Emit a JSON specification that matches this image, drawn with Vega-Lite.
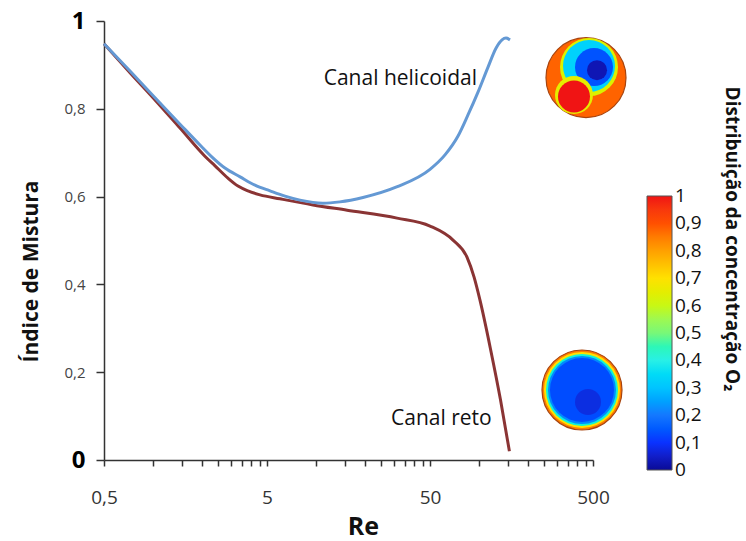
{
  "$schema": "https://vega.github.io/schema/vega-lite/v6.json",
  "width": 489,
  "height": 439,
  "autosize": {"type": "none"},
  "padding": {"left": 104, "top": 21, "right": 153, "bottom": 81},
  "background": "white",
  "config": {"view": {"stroke": null}, "font": "Open Sans"},
  "datasets": {
    "curves": [
      {"re": 0.5, "mi": 0.948, "canal": "reto"},
      {"re": 0.722, "mi": 0.882, "canal": "reto"},
      {"re": 1.028, "mi": 0.82, "canal": "reto"},
      {"re": 1.463, "mi": 0.756, "canal": "reto"},
      {"re": 2.08, "mi": 0.692, "canal": "reto"},
      {"re": 2.40, "mi": 0.67, "canal": "reto"},
      {"re": 2.88, "mi": 0.642, "canal": "reto"},
      {"re": 3.32, "mi": 0.624, "canal": "reto"},
      {"re": 3.82, "mi": 0.613, "canal": "reto"},
      {"re": 4.53, "mi": 0.604, "canal": "reto"},
      {"re": 6.01, "mi": 0.595, "canal": "reto"},
      {"re": 9.57, "mi": 0.581, "canal": "reto"},
      {"re": 15.5, "mi": 0.569, "canal": "reto"},
      {"re": 31.4, "mi": 0.551, "canal": "reto"},
      {"re": 50, "mi": 0.533, "canal": "reto"},
      {"re": 69.2, "mi": 0.501, "canal": "reto"},
      {"re": 84.3, "mi": 0.462, "canal": "reto"},
      {"re": 93.1, "mi": 0.417, "canal": "reto"},
      {"re": 101.3, "mi": 0.364, "canal": "reto"},
      {"re": 117.5, "mi": 0.253, "canal": "reto"},
      {"re": 135.5, "mi": 0.136, "canal": "reto"},
      {"re": 153.5, "mi": 0.02, "canal": "reto"},
      {"re": 0.5, "mi": 0.948, "canal": "helicoidal"},
      {"re": 0.722, "mi": 0.886, "canal": "helicoidal"},
      {"re": 1.028, "mi": 0.825, "canal": "helicoidal"},
      {"re": 1.463, "mi": 0.765, "canal": "helicoidal"},
      {"re": 1.94, "mi": 0.7175, "canal": "helicoidal"},
      {"re": 2.30, "mi": 0.69, "canal": "helicoidal"},
      {"re": 2.76, "mi": 0.665, "canal": "helicoidal"},
      {"re": 3.42, "mi": 0.645, "canal": "helicoidal"},
      {"re": 4.22, "mi": 0.626, "canal": "helicoidal"},
      {"re": 5.22, "mi": 0.613, "canal": "helicoidal"},
      {"re": 6.45, "mi": 0.601, "canal": "helicoidal"},
      {"re": 7.97, "mi": 0.592, "canal": "helicoidal"},
      {"re": 11.0, "mi": 0.585, "canal": "helicoidal"},
      {"re": 14.0, "mi": 0.588, "canal": "helicoidal"},
      {"re": 19.4, "mi": 0.598, "canal": "helicoidal"},
      {"re": 31.2, "mi": 0.622, "canal": "helicoidal"},
      {"re": 50, "mi": 0.662, "canal": "helicoidal"},
      {"re": 61.8, "mi": 0.695, "canal": "helicoidal"},
      {"re": 74.3, "mi": 0.738, "canal": "helicoidal"},
      {"re": 85.5, "mi": 0.786, "canal": "helicoidal"},
      {"re": 98.5, "mi": 0.838, "canal": "helicoidal"},
      {"re": 113.5, "mi": 0.895, "canal": "helicoidal"},
      {"re": 127, "mi": 0.938, "canal": "helicoidal"},
      {"re": 138.3, "mi": 0.957, "canal": "helicoidal"},
      {"re": 146.3, "mi": 0.961, "canal": "helicoidal"},
      {"re": 154.8, "mi": 0.957, "canal": "helicoidal"}
    ],
    "blobs": [
      {"re": 452.9, "mi": 0.871, "c": 0.88, "part": "t0"},
      {"re": 472.6, "mi": 0.895, "c": 0.63, "part": "t1"},
      {"re": 472.6, "mi": 0.8975, "c": 0.33, "part": "t2"},
      {"re": 507.1, "mi": 0.895, "c": 0.14, "part": "t3"},
      {"re": 529.1, "mi": 0.888, "c": 0.03, "part": "t4"},
      {"re": 382.2, "mi": 0.8314, "c": 0.65, "part": "t5"},
      {"re": 382.2, "mi": 0.828, "c": 1.0, "part": "t6"},
      {"re": 428.0, "mi": 0.1595, "c": 0.85, "part": "b0"},
      {"re": 428.0, "mi": 0.1595, "c": 0.7, "part": "b1"},
      {"re": 428.0, "mi": 0.1595, "c": 0.42, "part": "b2"},
      {"re": 428.0, "mi": 0.1595, "c": 0.22, "part": "b3"},
      {"re": 428.0, "mi": 0.1595, "c": 0.13, "part": "b4"},
      {"re": 465.9, "mi": 0.132, "c": 0.06, "part": "b5"}
    ],
    "notes": [
      {"re": 97.1, "mi": 0.854, "txt": "Canal helicoidal"},
      {"re": 119.6, "mi": 0.0797, "txt": "Canal reto"}
    ],
    "legendTitle": [
      {"re": 3560, "mi": 0.5034, "txt": "Distribuição da concentração O₂"}
    ]
  },
  "encoding": {
    "x": {
      "field": "re",
      "type": "quantitative",
      "scale": {"type": "log", "domain": [0.5, 500], "nice": false},
      "axis": {
        "title": "Re",
        "titleFontSize": 25,
        "titleFontWeight": "bold",
        "titleColor": "#111",
        "titleX": 259,
        "titleY": 74,
        "titleBaseline": "alphabetic",
        "values": [0.5, 1, 1.5, 2, 2.5, 3, 3.5, 4, 4.5, 5, 10, 15, 20, 25, 30, 35, 40, 45, 50, 100, 150, 200, 250, 300, 350, 400, 450, 500],
        "labelExpr": "datum.value == 0.5 ? '0,5' : (datum.value == 5 || datum.value == 50 || datum.value == 500) ? format(datum.value, 'd') : ''",
        "labelFontSize": 19,
        "labelColor": "#333",
        "labelPadding": 22,
        "labelFlush": false,
        "labelOverlap": false,
        "tickSize": 6,
        "tickColor": "#333",
        "tickWidth": 1.5,
        "domainColor": "#333",
        "domainWidth": 1.5,
        "grid": false
      }
    },
    "y": {
      "field": "mi",
      "type": "quantitative",
      "scale": {"domain": [0, 1], "nice": false},
      "axis": {
        "title": "Índice de Mistura",
        "titleFontSize": 21,
        "titleFontWeight": "bold",
        "titleColor": "#111",
        "titleX": -67,
        "titleY": 250,
        "titleAngle": -90,
        "titleBaseline": "alphabetic",
        "values": [0, 0.2, 0.4, 0.6, 0.8, 1],
        "labelExpr": "datum.value == 0 ? '0' : datum.value == 1 ? '1' : replace(format(datum.value, '.1f'), '.', ',')",
        "labelFontSize": {"condition": {"test": "datum.value == 0 || datum.value == 1", "value": 24}, "value": 15},
        "labelFontWeight": {"condition": {"test": "datum.value == 0 || datum.value == 1", "value": "bold"}, "value": "normal"},
        "labelColor": {"condition": {"test": "datum.value == 0 || datum.value == 1", "value": "#000"}, "value": "#444"},
        "labelPadding": 11,
        "labelOverlap": false,
        "tickSize": 8,
        "tickColor": "#333",
        "tickWidth": 1.5,
        "domainColor": "#333",
        "domainWidth": 1.5,
        "grid": false
      }
    }
  },
  "layer": [
    {
      "data": {"name": "curves"},
      "transform": [{"filter": "datum.canal === 'reto'"}],
      "mark": {"type": "line", "interpolate": "monotone", "color": "#8a3434", "strokeWidth": 3}
    },
    {
      "data": {"name": "curves"},
      "transform": [{"filter": "datum.canal === 'helicoidal'"}],
      "mark": {"type": "line", "interpolate": "monotone", "color": "#6499d4", "strokeWidth": 3}
    },
    {
      "data": {"name": "blobs"},
      "transform": [{"filter": "datum.part === 't0'"}],
      "mark": {"type": "circle", "opacity": 1, "stroke": "#a8440e", "strokeWidth": 1.2, "size": 6400},
      "encoding": {
        "color": {
          "field": "c",
          "type": "quantitative",
          "scale": {
            "domain": [0, 0.1, 0.2, 0.3, 0.4, 0.5, 0.6, 0.7, 0.8, 0.9, 1],
            "range": ["#0a0a96", "#0a32ff", "#1478ff", "#00c4ff", "#28f0e6", "#78f878", "#c8f814", "#ffe100", "#ffa000", "#ff5000", "#f01414"]
          },
          "legend": {
            "orient": "none",
            "legendX": 543,
            "legendY": 175,
            "direction": "vertical",
            "gradientLength": 274,
            "gradientThickness": 25,
            "title": null,
            "values": [0.0001, 0.1, 0.2, 0.3, 0.4, 0.5, 0.6, 0.7, 0.8, 0.9, 0.9999],
            "labelExpr": "replace(format(datum.value, '.1~f'), '.', ',')",
            "labelFontSize": 19,
            "labelColor": "#111",
            "labelOffset": 3,
            "labelOverlap": false,
            "gradientStrokeColor": "#555",
            "gradientStrokeWidth": 1,
            "padding": 0
          }
        }
      }
    },
    {
      "data": {"name": "blobs"},
      "transform": [{"filter": "datum.part === 't1'"}],
      "mark": {"type": "circle", "opacity": 1, "strokeWidth": 0, "size": 3364},
      "encoding": {"color": {"field": "c", "type": "quantitative"}}
    },
    {
      "data": {"name": "blobs"},
      "transform": [{"filter": "datum.part === 't2'"}],
      "mark": {"type": "circle", "opacity": 1, "strokeWidth": 0, "size": 2704},
      "encoding": {"color": {"field": "c", "type": "quantitative"}}
    },
    {
      "data": {"name": "blobs"},
      "transform": [{"filter": "datum.part === 't3'"}],
      "mark": {"type": "circle", "opacity": 1, "strokeWidth": 0, "size": 1444},
      "encoding": {"color": {"field": "c", "type": "quantitative"}}
    },
    {
      "data": {"name": "blobs"},
      "transform": [{"filter": "datum.part === 't4'"}],
      "mark": {"type": "circle", "opacity": 1, "strokeWidth": 0, "size": 400},
      "encoding": {"color": {"field": "c", "type": "quantitative"}}
    },
    {
      "data": {"name": "blobs"},
      "transform": [{"filter": "datum.part === 't5'"}],
      "mark": {"type": "circle", "opacity": 1, "strokeWidth": 0, "size": 1444},
      "encoding": {"color": {"field": "c", "type": "quantitative"}}
    },
    {
      "data": {"name": "blobs"},
      "transform": [{"filter": "datum.part === 't6'"}],
      "mark": {"type": "circle", "opacity": 1, "strokeWidth": 0, "size": 1024},
      "encoding": {"color": {"field": "c", "type": "quantitative"}}
    },
    {
      "data": {"name": "blobs"},
      "transform": [{"filter": "datum.part === 'b0'"}],
      "mark": {"type": "circle", "opacity": 1, "stroke": "#a8440e", "strokeWidth": 1.2, "size": 6400},
      "encoding": {"color": {"field": "c", "type": "quantitative"}}
    },
    {
      "data": {"name": "blobs"},
      "transform": [{"filter": "datum.part === 'b1'"}],
      "mark": {"type": "circle", "opacity": 1, "strokeWidth": 0, "size": 5776},
      "encoding": {"color": {"field": "c", "type": "quantitative"}}
    },
    {
      "data": {"name": "blobs"},
      "transform": [{"filter": "datum.part === 'b2'"}],
      "mark": {"type": "circle", "opacity": 1, "strokeWidth": 0, "size": 5184},
      "encoding": {"color": {"field": "c", "type": "quantitative"}}
    },
    {
      "data": {"name": "blobs"},
      "transform": [{"filter": "datum.part === 'b3'"}],
      "mark": {"type": "circle", "opacity": 1, "strokeWidth": 0, "size": 4624},
      "encoding": {"color": {"field": "c", "type": "quantitative"}}
    },
    {
      "data": {"name": "blobs"},
      "transform": [{"filter": "datum.part === 'b4'"}],
      "mark": {"type": "circle", "opacity": 1, "strokeWidth": 0, "size": 4096},
      "encoding": {"color": {"field": "c", "type": "quantitative"}}
    },
    {
      "data": {"name": "blobs"},
      "transform": [{"filter": "datum.part === 'b5'"}],
      "mark": {"type": "circle", "opacity": 0.7, "strokeWidth": 0, "size": 676},
      "encoding": {"color": {"field": "c", "type": "quantitative"}}
    },
    {
      "data": {"name": "notes"},
      "mark": {"type": "text", "align": "right", "baseline": "alphabetic", "fontSize": 21, "color": "#111"},
      "encoding": {"text": {"field": "txt"}}
    },
    {
      "data": {"name": "legendTitle"},
      "mark": {"type": "text", "angle": 90, "align": "center", "baseline": "middle", "fontSize": 19, "fontWeight": "bold", "color": "#111"},
      "encoding": {"text": {"field": "txt"}}
    }
  ]
}
